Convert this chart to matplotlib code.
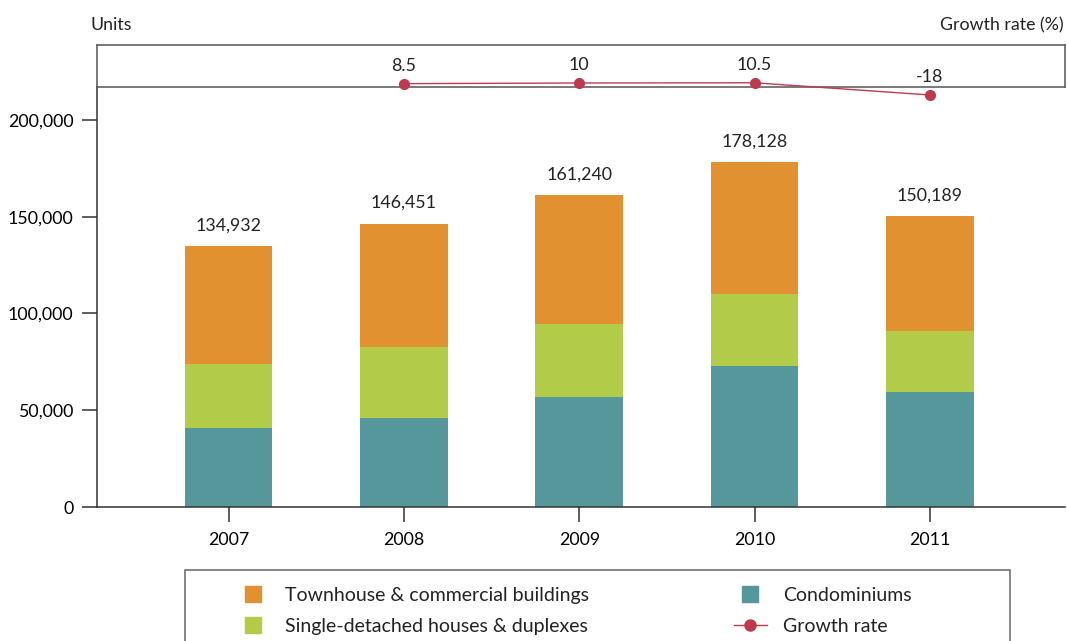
import numpy as np
import matplotlib
matplotlib.use("Agg")
import matplotlib.pyplot as plt
from matplotlib.lines import Line2D
from matplotlib.patches import Rectangle
from matplotlib.ticker import FuncFormatter

plt.rcParams['font.family'] = ['Lato', 'DejaVu Sans']
plt.rcParams['text.color'] = '#222222'

years = ['2007', '2008', '2009', '2010', '2011']
condominiums = [40800, 46000, 56800, 72900, 59400]
single_detached = [33100, 36700, 37800, 37200, 31600]
townhouse = [61032, 63751, 66640, 68028, 59189]

growth_years = ['2008', '2009', '2010', '2011']
growth_rate = [8.5, 10, 10.5, -18]

c_town = '#e1912f'
c_single = '#b2cb48'
c_condo = '#56979b'
c_growth = '#c03a4e'
c_axis = '#333333'
fs = 12.8

W, H = 1068, 641
def px_box(l, t, r, b):
    return [l / W, 1 - b / H, (r - l) / W, (b - t) / H]

fig = plt.figure(figsize=(W / 100, H / 100), dpi=100)
ax = fig.add_axes(px_box(97, 87, 1065, 507))
ax_g = fig.add_axes(px_box(97, 45, 1065, 87), sharex=ax)

x = np.arange(len(years))
w = 0.5
base2 = [c + s for c, s in zip(condominiums, single_detached)]
ax.bar(x, condominiums, w, color=c_condo, label='Condominiums')
ax.bar(x, single_detached, w, bottom=condominiums, color=c_single,
       label='Single-detached houses & duplexes')
ax.bar(x, townhouse, w, bottom=base2, color=c_town,
       label='Townhouse & commercial buildings')

totals = [b + t for b, t in zip(base2, townhouse)]
for xi, tot in zip(x, totals):
    ax.annotate(f'{tot:,}', (xi, tot), xytext=(0, 9), textcoords='offset points',
                ha='center', va='bottom', fontsize=fs)

ax.set_xlim(-0.75, 4.77)
ax.set_ylim(0, 217000)
ax.set_yticks(np.arange(0, 200001, 50000))
ax.yaxis.set_major_formatter(FuncFormatter(lambda v, p: f'{int(v):,}'))
ax.set_xticks(x)
ax.set_xticklabels(years)
ax.tick_params(axis='both', length=11, width=1.1, color=c_axis, labelsize=fs)
ax.tick_params(axis='y', pad=6)
ax.tick_params(axis='x', pad=7)
for s in ['top', 'right']:
    ax.spines[s].set_visible(False)
for s in ['left', 'bottom']:
    ax.spines[s].set_color(c_axis)
    ax.spines[s].set_linewidth(1.1)

# growth rate strip on top
gx = [years.index(y) for y in growth_years]
ax_g.set_ylim(0.67, 98.67)
ax_g.plot(gx, growth_rate, color=c_growth, lw=1, marker='o', ms=7,
          clip_on=False, zorder=5)
for xi, g in zip(gx, growth_rate):
    ax_g.annotate(f'{g:g}', (xi, g), xytext=(0, 7), textcoords='offset points',
                  ha='center', va='bottom', fontsize=fs, annotation_clip=False)
ax_g.tick_params(bottom=False, labelbottom=False, left=False, labelleft=False)
for s in ax_g.spines.values():
    s.set_color('#555555')
    s.set_linewidth(1.1)

fig.text(91 / W, 1 - 25 / H, 'Units', fontsize=fs, ha='left', va='center')
fig.text(1064 / W, 1 - 25 / H, 'Growth rate (%)', fontsize=fs, ha='right', va='center')

# legend box
fig.add_artist(Rectangle((185 / W, 1 - 660 / H), 825 / W, 90 / H,
                         transform=fig.transFigure, fill=False,
                         edgecolor='#666666', lw=1.1))
handles = [
    Line2D([], [], marker='s', ls='none', ms=12, color=c_town),
    Line2D([], [], marker='s', ls='none', ms=12, color=c_single),
    Line2D([], [], marker='s', ls='none', ms=12, color=c_condo),
    Line2D([], [], color=c_growth, lw=1, marker='o', ms=8),
]
labels = ['Townhouse & commercial buildings', 'Single-detached houses & duplexes',
          'Condominiums', 'Growth rate']
fig.legend(handles, labels, ncol=2, loc='upper left',
           bbox_to_anchor=(236 / W, 1 - 587 / H), frameon=False, fontsize=14,
           borderpad=0, borderaxespad=0, handlelength=1.7, handletextpad=0.82,
           labelspacing=0.72, columnspacing=7.45)

fig.savefig('out.png', dpi=100)
